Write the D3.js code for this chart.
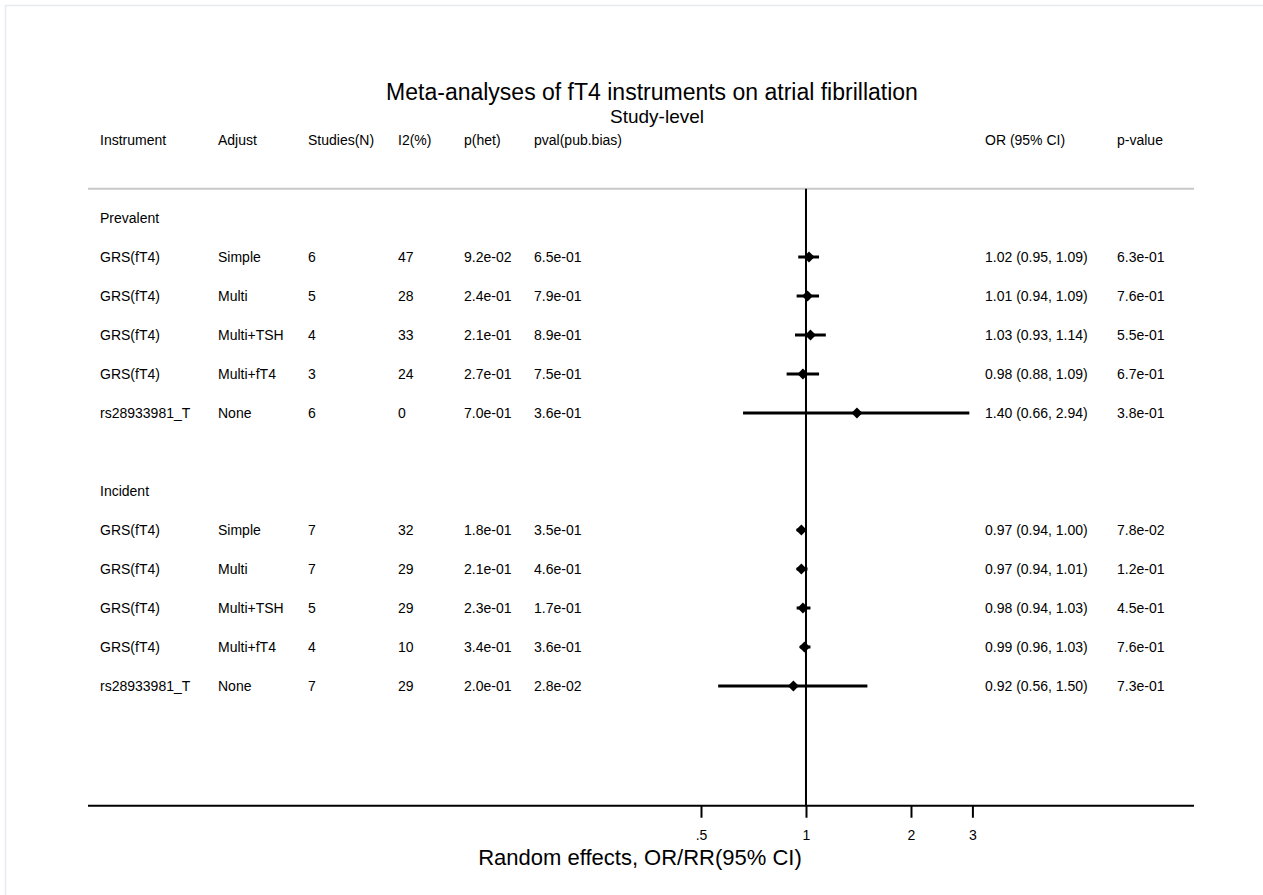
<html lang="en">
<head>
    <meta charset="UTF-8">
    <title>Meta-analyses of fT4 instruments on atrial fibrillation</title>
    <script src="https://cdn.jsdelivr.net/npm/d3@7"></script>
    <style>
        body{
            margin:0;
            background:#fff;
        }
        text{
            font-family: "Liberation Sans", Arial, sans-serif;
            fill:#000;
        }
        .cell{
            font-size:14px;
        }
        .ci{
            stroke:#000;
            stroke-width:3px;
        }
        .axis path, .axis line{
            stroke:#000;
            stroke-width:2px;
        }
    </style>
</head>
<body>
    <svg id="svg"></svg>
    <script>
        var WIDTH = 1263;
        var HEIGHT = 895;

        // table data
        var groups = ["Prevalent", "Incident"];
        var instrument = ["GRS(fT4)", "GRS(fT4)", "GRS(fT4)", "GRS(fT4)", "rs28933981_T",
                          "GRS(fT4)", "GRS(fT4)", "GRS(fT4)", "GRS(fT4)", "rs28933981_T"];
        var adjust = ["Simple", "Multi", "Multi+TSH", "Multi+fT4", "None",
                      "Simple", "Multi", "Multi+TSH", "Multi+fT4", "None"];
        var studies = [6, 5, 4, 3, 6, 7, 7, 5, 4, 7];
        var i2 = [47, 28, 33, 24, 0, 32, 29, 29, 10, 29];
        var pHet = ["9.2e-02", "2.4e-01", "2.1e-01", "2.7e-01", "7.0e-01",
                    "1.8e-01", "2.1e-01", "2.3e-01", "3.4e-01", "2.0e-01"];
        var pBias = ["6.5e-01", "7.9e-01", "8.9e-01", "7.5e-01", "3.6e-01",
                     "3.5e-01", "4.6e-01", "1.7e-01", "3.6e-01", "2.8e-02"];
        var or = [1.02, 1.01, 1.03, 0.98, 1.40, 0.97, 0.97, 0.98, 0.99, 0.92];
        var lower = [0.95, 0.94, 0.93, 0.88, 0.66, 0.94, 0.94, 0.94, 0.96, 0.56];
        var upper = [1.09, 1.09, 1.14, 1.09, 2.94, 1.00, 1.01, 1.03, 1.03, 1.50];
        var pValue = ["6.3e-01", "7.6e-01", "5.5e-01", "6.7e-01", "3.8e-01",
                      "7.8e-02", "1.2e-01", "4.5e-01", "7.6e-01", "7.3e-01"];
        var headers = ["Instrument", "Adjust", "Studies(N)", "I2(%)", "p(het)", "pval(pub.bias)",
                       "OR (95% CI)", "p-value"];
        var ticks = [0.5, 1, 2, 3];
        var tickLabels = [".5", "1", "2", "3"];

        var svg = d3.select("#svg")
                    .attr("width", WIDTH)
                    .attr("height", HEIGHT);

        // outer frame
        svg.append("rect")
           .attr("x", 5.5)
           .attr("y", 5.5)
           .attr("width", WIDTH)
           .attr("height", HEIGHT)
           .attr("fill", "none")
           .attr("stroke", "#e6ebef")
           .attr("stroke-width", 1.5);

        // rows: group label, 5 studies, blank, group label, 5 studies
        var rows = [];
        var slot = 0;
        groups.forEach(function(g, gi){
            rows.push({type:"group", label:g, slot:slot});
            slot++;
            for (var k = 0; k < 5; k++){
                var i = gi*5 + k;
                rows.push({type:"study", i:i, slot:slot});
                slot++;
            }
            slot++;
        })

        var yScale = d3.scaleLinear()
                       .domain([0, 12])
                       .range([218, 686]);

        var xScale = d3.scaleLog()
                       .domain([0.5, 3])
                       .range([701, 972.4]);

        var colX = [100, 218, 308, 398, 464, 534, 985, 1117];
        var AXIS_Y = yScale(15.07);

        // title
        svg.append("text")
           .attr("x", 652)
           .attr("y", 100)
           .attr("text-anchor", "middle")
           .style("font-size", "23px")
           .text("Meta-analyses of fT4 instruments on atrial fibrillation");

        svg.append("text")
           .attr("x", 657)
           .attr("y", 123)
           .attr("text-anchor", "middle")
           .style("font-size", "19px")
           .text("Study-level");

        // header
        svg.selectAll(".head")
           .data(headers)
           .enter()
           .append("text")
           .attr("class", "cell head")
           .attr("x", function(d, i){return colX[i]})
           .attr("y", yScale(-2))
           .attr("dy", "0.35em")
           .text(function(d){return d});

        svg.append("line")
           .attr("x1", 88)
           .attr("x2", 1194)
           .attr("y1", yScale(-0.75))
           .attr("y2", yScale(-0.75))
           .attr("stroke", "#c8c8c8")
           .attr("stroke-width", 2);

        // null line at OR = 1
        svg.append("line")
           .attr("x1", xScale(1))
           .attr("x2", xScale(1))
           .attr("y1", yScale(-0.75))
           .attr("y2", AXIS_Y)
           .attr("stroke", "#000")
           .attr("stroke-width", 2);

        // x axis
        var xAxis = d3.axisBottom()
                      .scale(xScale)
                      .tickValues(ticks)
                      .tickFormat(function(d, i){return tickLabels[i]})
                      .tickSize(12)
                      .tickSizeOuter(0);

        var axisG = svg.append("g")
                       .attr("class", "axis")
                       .attr("transform", "translate(0," + AXIS_Y + ")")
                       .call(xAxis);
        axisG.select(".domain").remove();
        axisG.selectAll("text")
             .attr("y", 24)
             .style("font-size", "14px")
             .style("font-family", "'Liberation Sans', Arial, sans-serif")
             .attr("fill", "#000");

        svg.append("line")
           .attr("x1", 88)
           .attr("x2", 1194)
           .attr("y1", AXIS_Y)
           .attr("y2", AXIS_Y)
           .attr("stroke", "#000")
           .attr("stroke-width", 2);

        svg.append("text")
           .attr("x", 640)
           .attr("y", AXIS_Y + 59)
           .attr("text-anchor", "middle")
           .style("font-size", "22px")
           .text("Random effects, OR/RR(95% CI)");

        // group labels
        svg.selectAll(".group")
           .data(rows.filter(function(r){return r.type == "group"}))
           .enter()
           .append("text")
           .attr("class", "cell group")
           .attr("x", colX[0])
           .attr("y", function(d){return yScale(d.slot)})
           .attr("dy", "0.35em")
           .text(function(d){return d.label});

        var studyRows = rows.filter(function(r){return r.type == "study"});

        var rowG = svg.selectAll(".row")
                      .data(studyRows)
                      .enter()
                      .append("g")
                      .attr("class", "row")
                      .attr("transform", function(d){return "translate(0," + yScale(d.slot) + ")"});

        var cellText = function(d){
            var i = d.i;
            return [instrument[i], adjust[i], studies[i], i2[i], pHet[i], pBias[i],
                    or[i].toFixed(2) + " (" + lower[i].toFixed(2) + ", " + upper[i].toFixed(2) + ")",
                    pValue[i]];
        }

        rowG.selectAll("text")
            .data(cellText)
            .enter()
            .append("text")
            .attr("class", "cell")
            .attr("x", function(d, j){return colX[j]})
            .attr("dy", "0.35em")
            .text(function(d){return d});

        // confidence intervals
        rowG.append("line")
            .attr("class", "ci")
            .attr("x1", function(d){return xScale(lower[d.i])})
            .attr("x2", function(d){return xScale(upper[d.i])})
            .attr("y1", 0)
            .attr("y2", 0);

        // point estimates (diamonds)
        rowG.append("path")
            .attr("d", "M0,-5.5L5.5,0L0,5.5L-5.5,0Z")
            .attr("transform", function(d){return "translate(" + xScale(or[d.i]) + ",0)"})
            .attr("fill", "#000");
    </script>
</body>
</html>
